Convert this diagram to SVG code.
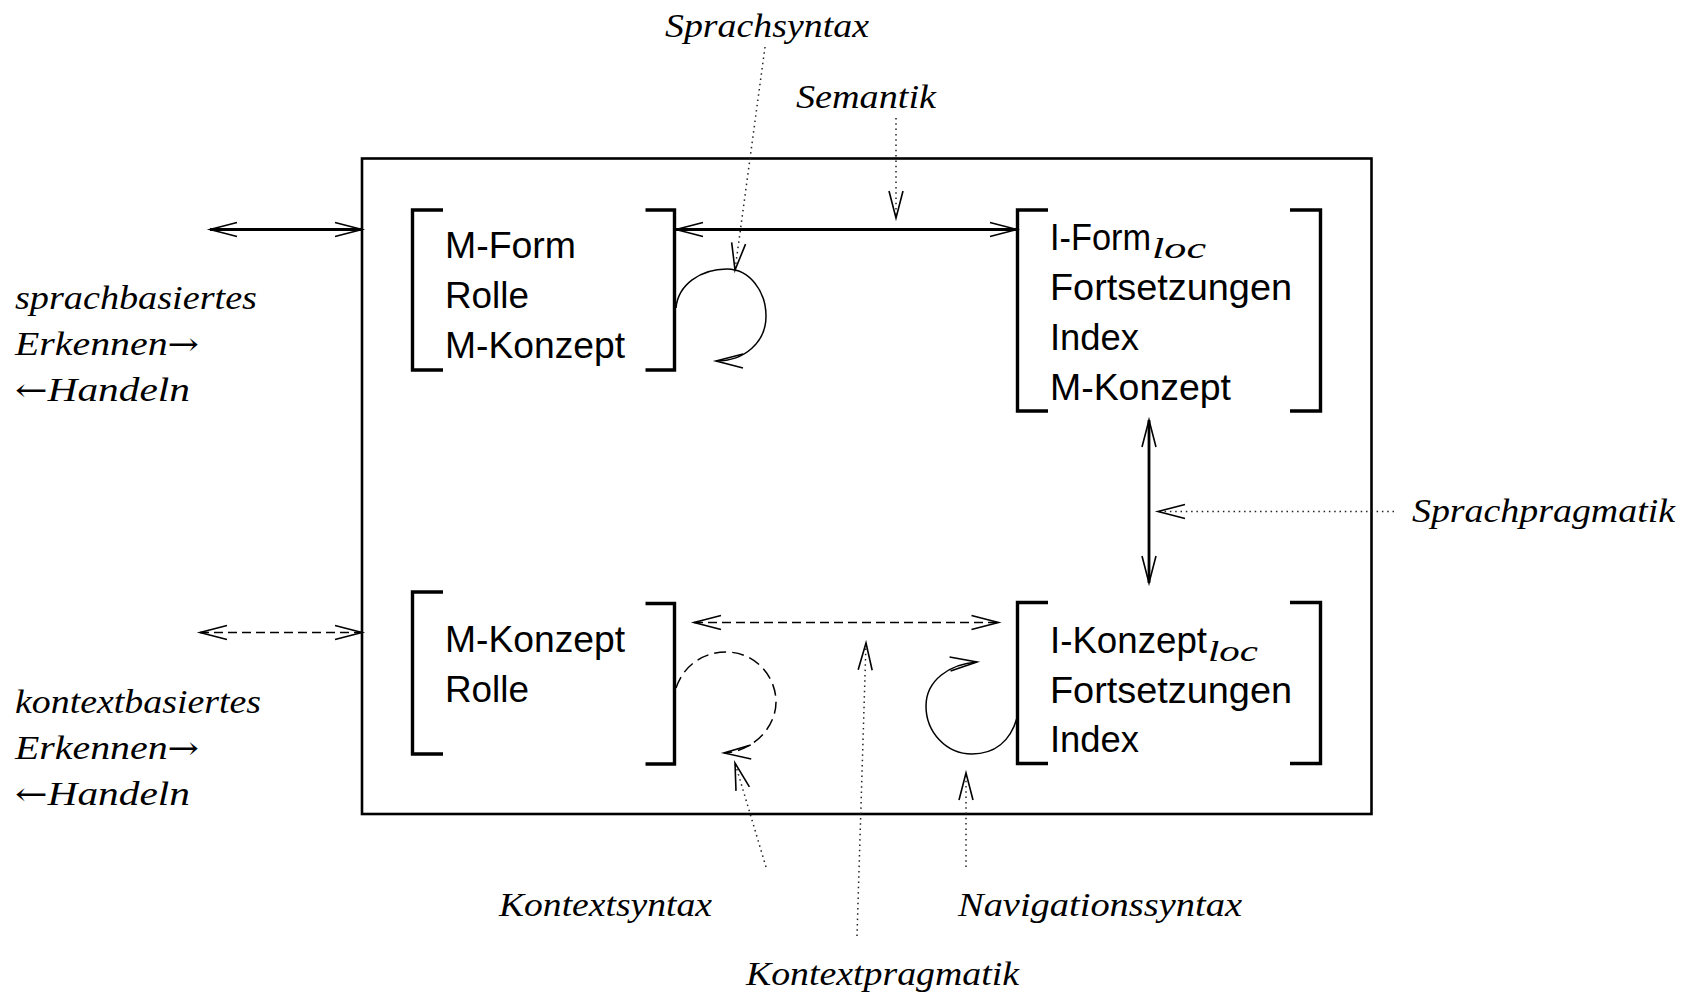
<svg xmlns="http://www.w3.org/2000/svg" width="1682" height="995" viewBox="0 0 1682 995">
<style>
.sans{font-family:"Liberation Sans",Arial,Helvetica,sans-serif;font-size:36px;fill:#000}
.it{font-family:"Liberation Serif","Times New Roman",serif;font-style:italic;font-size:34px;fill:#000}
.arr{font-family:"DejaVu Serif","Liberation Serif",serif;font-style:normal;font-size:32px}
.sub{font-family:"Liberation Serif","Times New Roman",serif;font-style:italic;font-size:30px;fill:#000}
.br{fill:none;stroke:#000;stroke-width:3.4;stroke-linecap:butt;stroke-linejoin:miter}
.frame{fill:none;stroke:#000;stroke-width:2.6}
.thick{fill:none;stroke:#000;stroke-width:2.8}
.dash{fill:none;stroke:#000;stroke-width:1.6;stroke-dasharray:9 5}
.loop{fill:none;stroke:#000;stroke-width:1.5}
.loopd{fill:none;stroke:#000;stroke-width:1.5;stroke-dasharray:12 6}
.dot{fill:none;stroke:#222;stroke-width:1.5;stroke-dasharray:1.5 3.8}
</style>
<defs>
<marker id="ah" markerUnits="userSpaceOnUse" viewBox="-1 -10 30 20" markerWidth="30" markerHeight="20" refX="27" refY="0" orient="auto-start-reverse" overflow="visible">
<path d="M0,-7 L27,0 L0,7" fill="none" stroke="#000" stroke-width="1.6" stroke-dasharray="none"/>
</marker>
</defs>

<g id="frame">
<rect class="frame" x="362" y="158.5" width="1009.5" height="655.5"/>
</g>

<g id="node-top-left">
<path class="br" d="M443,210 H412.5 V370 H443"/>
<path class="br" d="M645.5,210 H674.5 V370 H645.5"/>
<text class="sans" x="445" y="258" textLength="131" lengthAdjust="spacingAndGlyphs">M-Form</text>
<text class="sans" x="445" y="308" textLength="84" lengthAdjust="spacingAndGlyphs">Rolle</text>
<text class="sans" x="445" y="358" textLength="180" lengthAdjust="spacingAndGlyphs">M-Konzept</text>
</g>

<g id="node-top-right">
<path class="br" d="M1048,210 H1017.5 V411 H1048"/>
<path class="br" d="M1290,210 H1320.5 V411 H1290"/>
<text class="sans" x="1050" y="250" textLength="101" lengthAdjust="spacingAndGlyphs">I-Form</text>
<text class="sub" x="1152" y="258" textLength="54" lengthAdjust="spacingAndGlyphs">loc</text>
<text class="sans" x="1050" y="300" textLength="242" lengthAdjust="spacingAndGlyphs">Fortsetzungen</text>
<text class="sans" x="1050" y="350" textLength="89" lengthAdjust="spacingAndGlyphs">Index</text>
<text class="sans" x="1050" y="400" textLength="181" lengthAdjust="spacingAndGlyphs">M-Konzept</text>
</g>

<g id="node-bottom-left">
<path class="br" d="M443,592 H412.5 V754 H443"/>
<path class="br" d="M645.5,603.5 H674.5 V764 H645.5"/>
<text class="sans" x="445" y="652" textLength="180" lengthAdjust="spacingAndGlyphs">M-Konzept</text>
<text class="sans" x="445" y="702" textLength="84" lengthAdjust="spacingAndGlyphs">Rolle</text>
</g>

<g id="node-bottom-right">
<path class="br" d="M1048,602.5 H1017.5 V763.5 H1048"/>
<path class="br" d="M1290,602.5 H1320.5 V763.5 H1290"/>
<text class="sans" x="1050" y="653" textLength="157" lengthAdjust="spacingAndGlyphs">I-Konzept</text>
<text class="sub" x="1208" y="661" textLength="50" lengthAdjust="spacingAndGlyphs">loc</text>
<text class="sans" x="1050" y="703" textLength="242" lengthAdjust="spacingAndGlyphs">Fortsetzungen</text>
<text class="sans" x="1050" y="752" textLength="89" lengthAdjust="spacingAndGlyphs">Index</text>
</g>

<g id="label-sprachbasiert">
<text class="it" x="15" y="309" textLength="242" lengthAdjust="spacingAndGlyphs">sprachbasiertes</text>
<text class="it" x="15" y="355" textLength="184" lengthAdjust="spacingAndGlyphs">Erkennen<tspan class="arr">→</tspan></text>
<text class="it" x="15" y="401" textLength="175" lengthAdjust="spacingAndGlyphs"><tspan class="arr">←</tspan>Handeln</text>
</g>

<g id="label-kontextbasiert">
<text class="it" x="15" y="713" textLength="246" lengthAdjust="spacingAndGlyphs">kontextbasiertes</text>
<text class="it" x="15" y="759" textLength="184" lengthAdjust="spacingAndGlyphs">Erkennen<tspan class="arr">→</tspan></text>
<text class="it" x="15" y="805" textLength="175" lengthAdjust="spacingAndGlyphs"><tspan class="arr">←</tspan>Handeln</text>
</g>

<g id="label-sprachsyntax"><text class="it" x="665" y="37" textLength="204" lengthAdjust="spacingAndGlyphs">Sprachsyntax</text></g>
<g id="label-semantik"><text class="it" x="796" y="108" textLength="140" lengthAdjust="spacingAndGlyphs">Semantik</text></g>
<g id="label-sprachpragmatik"><text class="it" x="1412" y="522" textLength="263" lengthAdjust="spacingAndGlyphs">Sprachpragmatik</text></g>
<g id="label-kontextsyntax"><text class="it" x="499" y="916" textLength="213" lengthAdjust="spacingAndGlyphs">Kontextsyntax</text></g>
<g id="label-navigationssyntax"><text class="it" x="958" y="916" textLength="284" lengthAdjust="spacingAndGlyphs">Navigationssyntax</text></g>
<g id="label-kontextpragmatik"><text class="it" x="746" y="985" textLength="273" lengthAdjust="spacingAndGlyphs">Kontextpragmatik</text></g>

<g id="connectors">
<path class="thick" d="M210,229.5 H362" marker-start="url(#ah)" marker-end="url(#ah)"/>
<path class="thick" d="M676,229.5 H1017" marker-start="url(#ah)" marker-end="url(#ah)"/>
<path class="thick" d="M1149,420 V583" marker-start="url(#ah)" marker-end="url(#ah)"/>
<path class="dash" d="M200,632.5 H362" marker-start="url(#ah)" marker-end="url(#ah)"/>
<path class="dash" d="M694,622.5 H998.5" marker-start="url(#ah)" marker-end="url(#ah)"/>
<path class="loop" d="M676,308 C678,285 700,269 727,269 C750,269 766,292 766,316 C766,342 745,361 716,361" marker-end="url(#ah)"/>
<path class="loopd" d="M676,688 C684,664 705,652 726,652 C755,652 776,676 776,702 C776,728 752,752 724,753" marker-end="url(#ah)"/>
<path class="loop" d="M1017,718 C1010,742 994,754 972,754 C946,754 926,732 926,706 C926,680 950,664 977,662" marker-end="url(#ah)"/>
<path class="dot" d="M765,47 L735,270" marker-end="url(#ah)"/>
<path class="dot" d="M896,118 V218" marker-end="url(#ah)"/>
<path class="dot" d="M1394,511.5 H1158" marker-end="url(#ah)"/>
<path class="dot" d="M766,867 L735,763" marker-end="url(#ah)"/>
<path class="dot" d="M857,936 L866,643" marker-end="url(#ah)"/>
<path class="dot" d="M966,867 V773" marker-end="url(#ah)"/>
</g>
</svg>
